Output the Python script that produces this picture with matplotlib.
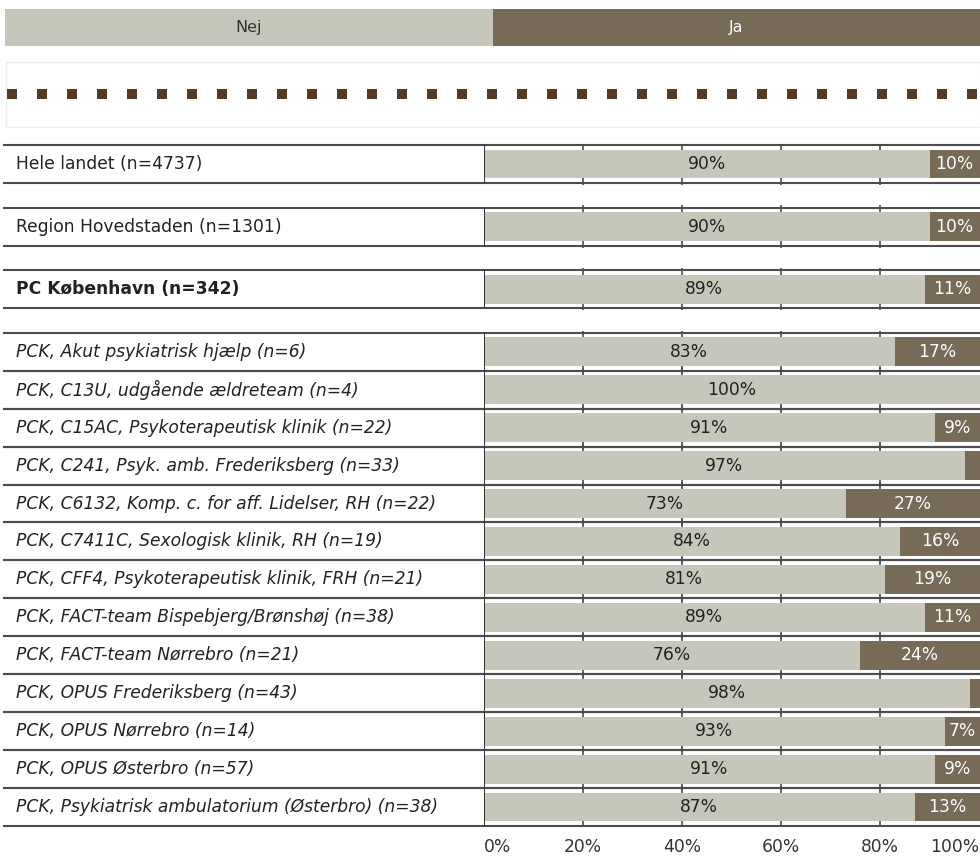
import numpy as np
import matplotlib
matplotlib.use('Agg')
import matplotlib.pyplot as plt
from matplotlib.patches import Rectangle
from matplotlib.lines import Line2D
import matplotlib.transforms as mtransforms

# Data
labels = [
    'Hele landet (n=4737)',
    'Region Hovedstaden (n=1301)',
    'PC København (n=342)',
    'PCK, Akut psykiatrisk hjælp (n=6)',
    'PCK, C13U, udgående ældreteam (n=4)',
    'PCK, C15AC, Psykoterapeutisk klinik (n=22)',
    'PCK, C241, Psyk. amb. Frederiksberg (n=33)',
    'PCK, C6132, Komp. c. for aff. Lidelser, RH (n=22)',
    'PCK, C7411C, Sexologisk klinik, RH (n=19)',
    'PCK, CFF4, Psykoterapeutisk klinik, FRH (n=21)',
    'PCK, FACT-team Bispebjerg/Brønshøj (n=38)',
    'PCK, FACT-team Nørrebro (n=21)',
    'PCK, OPUS Frederiksberg (n=43)',
    'PCK, OPUS Nørrebro (n=14)',
    'PCK, OPUS Østerbro (n=57)',
    'PCK, Psykiatrisk ambulatorium (Østerbro) (n=38)',
]
nej = [90, 90, 89, 83, 100, 91, 97, 73, 84, 81, 89, 76, 98, 93, 91, 87]
ja = [10, 10, 11, 17, 0, 9, 3, 27, 16, 19, 11, 24, 2, 7, 9, 13]
groups = [1, 1, 1, 13]  # rows per block, blocks separated by a gap
series_names = ['Nej', 'Ja']
xticks = [0, 20, 40, 60, 80, 100]
xticklabels = ['0%', '20%', '40%', '60%', '80%', '100%']

NEJ_COLOR = '#c6c7ba'
JA_COLOR = '#776a56'
LINE_COLOR = '#4d4d4d'
TEXT_COLOR = '#222222'
FS = 12.3

W, H = 980, 857
fig = plt.figure(figsize=(W / 100, H / 100), dpi=100)
plt.rcParams['font.family'] = 'DejaVu Sans'

# row positions (row units, gap between blocks)
gap = 0.65
ypos = []
style = []
y = 0.5
for gi, n in enumerate(groups):
    for k in range(n):
        ypos.append(y)
        style.append(gi)
        y += 1
    y += gap
total = y - gap - 0.5

# main axes in pixel layout
x0, x1 = 483.5, 979.5
top, bottom = 145, 826
ax = fig.add_axes([x0 / W, 1 - bottom / H, (x1 - x0) / W, (bottom - top) / H])
ax.set_xlim(0, 100)
ax.set_ylim(total, 0)
for s in ax.spines.values():
    s.set_visible(False)
ax.set_yticks([])
ax.set_xticks(xticks)
ax.set_xticklabels(xticklabels, fontsize=FS, color='#333333')
ax.tick_params(axis='x', length=0, pad=9)
tl = ax.get_xticklabels()
tl[0].set_ha('left')
tl[-1].set_ha('right')

ypos = np.array(ypos)
nej = np.array(nej)
ja = np.array(ja)

ax.barh(ypos, nej, height=0.76, color=NEJ_COLOR, zorder=2)
ax.barh(ypos, ja, left=nej, height=0.76, color=JA_COLOR, zorder=2)

for yi, a, b in zip(ypos, nej, ja):
    ax.text(a / 2, yi, f'{a}%', ha='center', va='center', fontsize=FS, color=TEXT_COLOR, zorder=3)
    if b >= 5:
        ax.text(a + b / 2, yi, f'{b}%', ha='center', va='center', fontsize=FS, color='white', zorder=3)

# row frame lines, spanning label box and plot area
trans = mtransforms.blended_transform_factory(fig.transFigure, ax.transData)
for yi in ypos:
    for yl in (yi - 0.5, yi + 0.5):
        ax.add_line(Line2D([4 / W, 1], [yl, yl], transform=trans, color=LINE_COLOR,
                           lw=1.5, clip_on=False, zorder=4))
    ax.vlines(0, yi - 0.5, yi + 0.5, color='#222222', lw=1.3, zorder=4)
    for xt in xticks[1:-1]:
        ax.vlines(xt, yi - 0.56, yi - 0.38, color=LINE_COLOR, lw=1.2, zorder=4)
        ax.vlines(xt, yi + 0.38, yi + 0.56, color=LINE_COLOR, lw=1.2, zorder=4)

# row labels
for yi, lab, st in zip(ypos, labels, style):
    kw = {}
    if st == 2:
        kw['fontweight'] = 'bold'
    elif st == 3:
        kw['fontstyle'] = 'italic'
    ax.text(16 / W, yi, lab, transform=trans, ha='left', va='center', fontsize=FS,
            color=TEXT_COLOR, **kw)

# legend header
def px(x, y):
    return x / W, 1 - y / H

fig.add_artist(Rectangle(px(5, 46), (493 - 5) / W, 37 / H, transform=fig.transFigure,
                         facecolor=NEJ_COLOR, edgecolor='none'))
fig.add_artist(Rectangle(px(493, 46), (W - 493) / W, 37 / H, transform=fig.transFigure,
                         facecolor=JA_COLOR, edgecolor='none'))
fig.text(*px(249, 27.5), series_names[0], ha='center', va='center', fontsize=FS - 0.8, color='#333333')
fig.text(*px(736, 27.5), series_names[1], ha='center', va='center', fontsize=FS - 0.8, color='white')

# dotted decoration box
fig.add_artist(Rectangle(px(6, 127), (W - 6) / W, 65 / H, transform=fig.transFigure,
                         facecolor='none', edgecolor='#eeeeee', lw=1))
fig.add_artist(Line2D([7 / W, 1], [1 - 93.5 / H] * 2, transform=fig.transFigure,
                      color='#553b25', lw=7.2, linestyle=(0, (1, 2)), dash_capstyle='butt'))

fig.savefig('out.png', dpi=100)
